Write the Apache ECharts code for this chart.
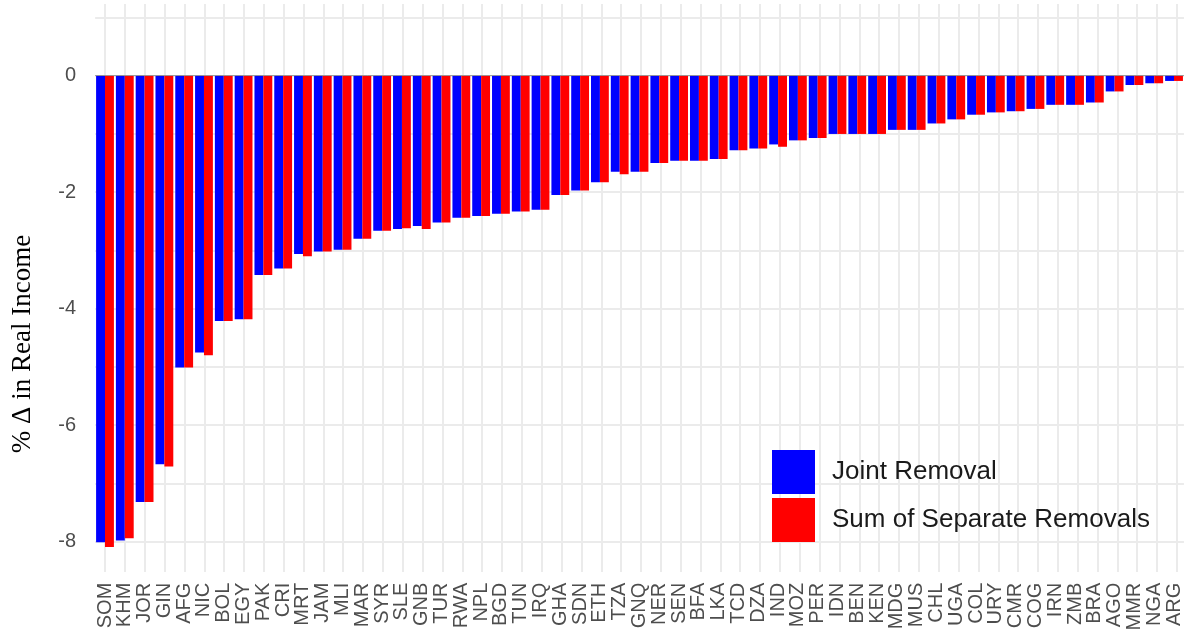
<!DOCTYPE html>
<html>
<head>
<meta charset="utf-8">
<script src="https://cdn.jsdelivr.net/npm/echarts@6/dist/echarts.min.js"></script>
<style>
  html, body { margin: 0; padding: 0; background: #fff; }
  #chart { width: 1184px; height: 635px; }
</style>
</head>
<body>
<div id="chart"></div>
<script>
// Countries, ordered by the size of the real income loss
const categories = [
  'SOM','KHM','JOR','GIN','AFG','NIC','BOL','EGY','PAK','CRI',
  'MRT','JAM','MLI','MAR','SYR','SLE','GNB','TUR','RWA','NPL',
  'BGD','TUN','IRQ','GHA','SDN','ETH','TZA','GNQ','NER','SEN',
  'BFA','LKA','TCD','DZA','IND','MOZ','PER','IDN','BEN','KEN',
  'MDG','MUS','CHL','UGA','COL','URY','CMR','COG','IRN','ZMB',
  'BRA','AGO','MMR','NGA','ARG'
];

// % change in real income when both are removed together
const jointRemoval = [
  -8.01,-7.98,-7.32,-6.67,-5.01,-4.75,-4.21,-4.18,-3.42,-3.31,
  -3.06,-3.02,-2.99,-2.80,-2.66,-2.63,-2.58,-2.52,-2.44,-2.41,
  -2.37,-2.33,-2.30,-2.05,-1.97,-1.83,-1.65,-1.65,-1.50,-1.46,
  -1.46,-1.43,-1.28,-1.25,-1.18,-1.11,-1.07,-1.00,-1.00,-1.00,
  -0.93,-0.93,-0.82,-0.75,-0.67,-0.63,-0.61,-0.57,-0.50,-0.50,
  -0.46,-0.27,-0.16,-0.13,-0.09
];

// % change in real income summed over the separate removals
const sumSeparateRemovals = [
  -8.09,-7.94,-7.32,-6.71,-5.01,-4.80,-4.21,-4.18,-3.42,-3.31,
  -3.10,-3.02,-2.99,-2.80,-2.66,-2.62,-2.63,-2.52,-2.44,-2.41,
  -2.37,-2.33,-2.30,-2.05,-1.97,-1.83,-1.69,-1.65,-1.50,-1.46,
  -1.46,-1.43,-1.28,-1.25,-1.22,-1.11,-1.07,-1.00,-1.00,-1.00,
  -0.93,-0.93,-0.82,-0.75,-0.67,-0.63,-0.61,-0.57,-0.50,-0.50,
  -0.46,-0.27,-0.16,-0.13,-0.09
];

const yTickLabels = [0, -2, -4, -6, -8];
const seriesNames = ['Joint Removal', 'Sum of Separate Removals'];

const GRID_COLOR = '#ebebeb';
const TEXT_GREY = '#4d4d4d';
const SANS = '"Liberation Sans", Arial, sans-serif';

const chart = echarts.init(document.getElementById('chart'), null, { renderer: 'canvas' });

chart.setOption({
  animation: false,
  backgroundColor: '#ffffff',
  grid: [
    // bars and horizontal grid lines
    { left: 95.1, right: -2.8, top: 17.45, bottom: 93.3, containLabel: false },
    // vertical grid lines through the category centres
    { left: 105, right: 7.1, top: 4, bottom: 63, containLabel: false }
  ],
  xAxis: [
    {
      type: 'category',
      gridIndex: 0,
      data: categories,
      boundaryGap: true,
      axisLine: { show: false },
      axisTick: { show: false },
      splitLine: { show: false },
      axisLabel: {
        interval: 0,
        rotate: 90,
        margin: 41,
        fontSize: 20,
        fontFamily: SANS,
        color: TEXT_GREY,
        hideOverlap: false
      }
    },
    {
      type: 'value',
      gridIndex: 1,
      min: 0,
      max: categories.length - 1,
      interval: 1,
      axisLine: { show: false },
      axisTick: { show: false },
      axisLabel: { show: false },
      splitLine: { show: true, lineStyle: { color: GRID_COLOR, width: 2 } }
    }
  ],
  yAxis: [
    {
      type: 'value',
      gridIndex: 0,
      min: -8,
      max: 1,
      interval: 1,
      axisLine: { show: false },
      axisTick: { show: false },
      splitLine: { show: true, lineStyle: { color: GRID_COLOR, width: 2 } },
      axisLabel: {
        margin: 19,
        fontSize: 20,
        fontFamily: SANS,
        color: TEXT_GREY,
        formatter: v => (yTickLabels.indexOf(v) >= 0 ? String(v) : '')
      }
    },
    {
      type: 'value',
      gridIndex: 1,
      min: 0,
      max: 1,
      show: false
    }
  ],
  legend: {
    data: seriesNames,
    orient: 'vertical',
    left: 767,
    top: 445,
    icon: 'rect',
    itemWidth: 43,
    itemHeight: 44,
    itemGap: 4,
    selectedMode: false,
    textStyle: {
      fontSize: 26,
      fontFamily: SANS,
      color: '#1a1a1a',
      padding: [0, 0, 0, 12]
    }
  },
  graphic: [
    {
      type: 'text',
      x: 23,
      y: 344,
      rotation: Math.PI / 2,
      style: {
        text: '% \u0394 in Real Income',
        font: '27px "Liberation Serif", "Times New Roman", serif',
        fill: '#000000',
        align: 'center',
        verticalAlign: 'middle'
      }
    }
  ],
  series: [
    {
      name: seriesNames[0],
      type: 'bar',
      xAxisIndex: 0,
      yAxisIndex: 0,
      data: jointRemoval,
      barWidth: '45%',
      barGap: '0%',
      clip: false,
      itemStyle: { color: '#0000ff' },
      markLine: {
        silent: true,
        symbol: 'none',
        label: { show: false },
        lineStyle: { color: '#8c8c8c', width: 1, type: 'solid', opacity: 0.8 },
        data: [{ yAxis: 0 }]
      }
    },
    {
      name: seriesNames[1],
      type: 'bar',
      xAxisIndex: 0,
      yAxisIndex: 0,
      data: sumSeparateRemovals,
      barWidth: '45%',
      barGap: '0%',
      clip: false,
      itemStyle: { color: '#ff0000' }
    },
    {
      type: 'line',
      xAxisIndex: 1,
      yAxisIndex: 1,
      data: [],
      silent: true
    }
  ]
});
</script>
</body>
</html>
